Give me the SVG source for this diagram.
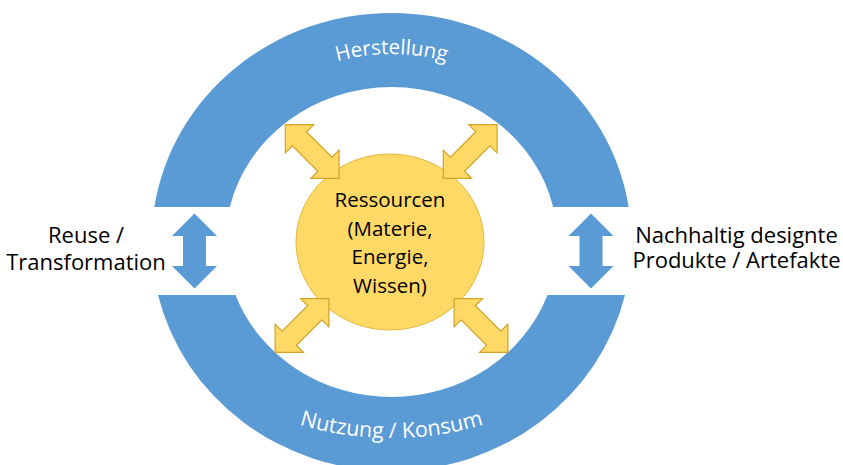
<svg xmlns="http://www.w3.org/2000/svg" xmlns:xlink="http://www.w3.org/1999/xlink" width="843" height="465" viewBox="0 0 843 465">
  <style>
    .ring { fill: #5B9BD5; }
    .core { fill: #FFD966; stroke: #E3B73C; stroke-width: 1; }
    .flow { fill: #5B9BD5; }
    .link { fill: #FFD966; stroke: #D1A326; stroke-width: 1.2; stroke-linejoin: miter; }
    .arc-label { font-family: "Open Sans", "Noto Sans", sans-serif; font-size: 20.5px; fill: #FFFFFF; }
    .arc-label.wide { font-size: 21.5px; }
    .label { font-family: "Open Sans", "Noto Sans", sans-serif; font-size: 22px; fill: #000000; text-anchor: middle; }
    .core-label { font-family: "Open Sans", "Noto Sans", sans-serif; font-size: 20.5px; fill: #000000; text-anchor: middle; }
  </style>
  <defs>
    <!-- baseline curves for the lettering inside the ring -->
    <path id="arc-top" d="M 194.5 242 A 197 188 0 0 1 588.5 242"/>
    <path id="arc-bottom" d="M 66.5 113 A 325 325 0 0 0 716.5 113"/>
    <!-- double-headed arrow, drawn along the x axis around the origin -->
    <polygon id="dbl-arrow" points="-38,0 -18,-20 -18,-10 18,-10 18,-20 38,0 18,20 18,10 -18,10 -18,20"/>
    <!-- vertical double arrow between the two ring halves -->
    <polygon id="v-arrow" points="0,213.5 22.5,236 11.5,236 11.5,266 22.5,266 0,288.5 -22.5,266 -11.5,266 -11.5,236 -22.5,236"/>
  </defs>

  <rect width="843" height="465" fill="#FFFFFF"/>

  <!-- upper half of the ring -->
  <g id="herstellung">
    <path class="ring" d="M 154.3 207 A 240 229 0 0 1 628.7 207 L 553.2 207 A 166 155 0 0 0 229.8 207 Z"/>
    <text class="arc-label"><textPath xlink:href="#arc-top" href="#arc-top" startOffset="50%" text-anchor="middle">Herstellung</textPath></text>
  </g>

  <!-- lower half of the ring -->
  <g id="nutzung-konsum">
    <path class="ring" d="M 158 295 A 240 229 0 0 0 625 295 L 547.5 295 A 166 155 0 0 1 235.5 295 Z"/>
    <text class="arc-label wide"><textPath xlink:href="#arc-bottom" href="#arc-bottom" startOffset="50%" text-anchor="middle">Nutzung / Konsum</textPath></text>
  </g>

  <!-- central resources disc -->
  <g id="ressourcen">
    <ellipse class="core" cx="390" cy="242" rx="94" ry="88"/>
    <text class="core-label" x="390" y="207">Ressourcen</text>
    <text class="core-label" x="390" y="235.5">(Materie,</text>
    <text class="core-label" x="390" y="264">Energie,</text>
    <text class="core-label" x="390" y="292.5">Wissen)</text>
  </g>

  <!-- side captions -->
  <g id="reuse-transformation">
    <text class="label" x="86" y="243">Reuse /</text>
    <text class="label" x="86" y="270">Transformation</text>
  </g>
  <g id="nachhaltige-produkte">
    <text class="label" x="736.5" y="243">Nachhaltig designte</text>
    <text class="label" x="736.5" y="268">Produkte / Artefakte</text>
  </g>

  <!-- arrows -->
  <g id="connectors">
    <use class="flow" href="#v-arrow" xlink:href="#v-arrow" transform="translate(194.5 0)"/>
    <use class="flow" href="#v-arrow" xlink:href="#v-arrow" transform="translate(591 0)"/>
    <use class="link" href="#dbl-arrow" xlink:href="#dbl-arrow" transform="translate(312.2 151.5) rotate(45)"/>
    <use class="link" href="#dbl-arrow" xlink:href="#dbl-arrow" transform="translate(470.2 151.5) rotate(-45)"/>
    <use class="link" href="#dbl-arrow" xlink:href="#dbl-arrow" transform="translate(302 325.5) rotate(-45)"/>
    <use class="link" href="#dbl-arrow" xlink:href="#dbl-arrow" transform="translate(481 325.5) rotate(45)"/>
  </g>
</svg>
